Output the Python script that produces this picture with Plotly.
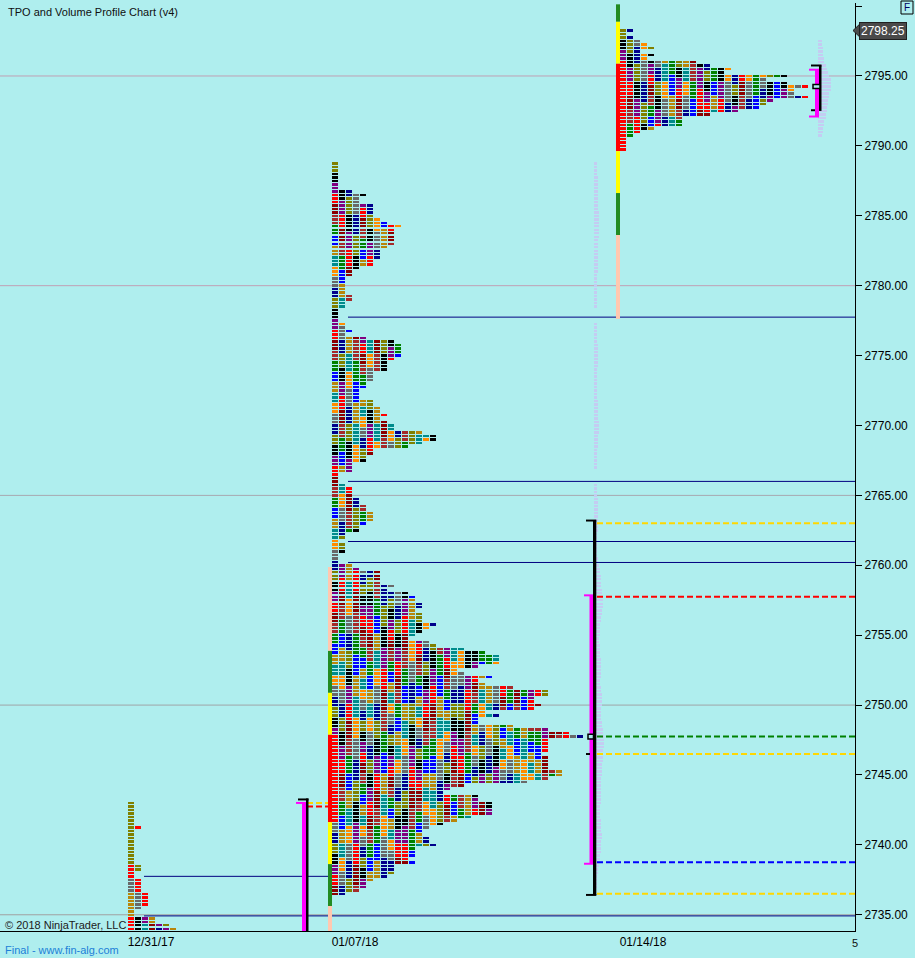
import plotly.graph_objects as go

# ---------------- data ----------------
DATES = ['12/31/17', '01/07/18', '01/14/18']
TICK = 0.25
LAST_PRICE = 2798.25

# colour codes of TPO letters
CODE = {'o': '#808000', 'y': '#B8860B', 'r': '#FF0000', 'g': '#696969', 'G': '#008000',
        'k': '#000000', 't': '#008B8B', 'd': '#8B0000', 'n': '#00008B', 'b': '#0000FF',
        'p': '#800080', 'a': '#FF8C00', 'w': '#A52A2A'}
CYCLE = 'oyrgGktdnbpaw'

# profile 1 (week 12/31/17): one string of period colours per price row, from top down
P1_TOP = 2743.0
P1_ROWS = ['o', 'o', 'o', 'o', 'o', 'o', 'o', 'or', 'o', 'o', 'o', 'o', 'o', 'o', 'o', 'o', 'o', 'o',
           'ro', 'ro', 'r', 'r', 'gr', 'gr', 'gr', 'gr', 'ygr', 'ygr', 'ygr', 'ygr', 'yg', 'y', 'y',
           'rkpy', 'rkpy', 'rktdpo', 'rktdnpy']

# profile 2 (week 01/07/18): TPO count per price row, from top down
P2_TOP = 2788.75
P2_COUNTS = [1, 1, 1, 1, 1, 1, 1, 1,
             3, 5, 4, 4,
             6, 6, 6, 6, 7, 8,
             10, 9, 9, 9, 9, 9,
             8, 7, 7, 7, 6, 6,
             4, 3, 3, 2, 2, 2, 2, 2,
             3, 3, 2, 2, 1, 1, 1, 1,
             2, 2, 3, 2, 5,
             9, 10, 10, 10, 10, 9, 8, 8, 8,
             6, 6, 6, 5, 5, 4, 4, 4,
             6, 6, 7, 7, 8, 7, 8, 9, 9,
             13, 15, 15, 13, 11,
             6, 6, 5, 5, 3, 3, 3, 1, 1, 1,
             2, 3, 3, 3, 4, 4, 5, 5, 6, 6, 6,
             5, 4, 4, 2, 2, 1, 2, 2, 2, 1, 1,
             1, 3, 4, 7, 7, 7, 7, 9, 8, 11,
             12, 12, 13, 13, 12, 13, 13, 13, 15, 14,
             13, 12, 11, 14, 15, 19, 22, 24, 24, 24,
             21, 18, 19, 23, 21, 22, 26, 31, 31, 29,
             29, 30, 29, 22, 24, 21, 21, 26, 31, 34,
             36, 31, 31,
             31, 31, 30, 31, 31, 31, 31, 33, 33, 31,
             28, 19, 17, 16, 21, 21, 23, 23, 23, 23,
             20, 18, 16, 14, 13, 13, 14, 14, 15, 12,
             12, 12, 11, 12, 9, 9, 9, 8, 6, 5,
             5, 4, 2]

# profile 3 (week 01/14/18)
P3_TOP = 2798.25
P3_COUNTS = [2, 1, 2, 3, 4, 5, 3, 5, 4, 11, 13, 16, 15, 24, 21, 24, 27, 25, 25, 27,
             22, 21, 20, 17, 13, 9, 9, 9, 5, 3, 2, 1, 1, 1, 1]

# volume profiles (relative bar length per row, from top down)
P2_VOL = ("1111222222" "2222333333" "3322222222" "2211111111" "1100001111"
          "1122222221" "1111111122" "2222333322" "2211111100" "0011112222"
          "2222221111" "1112234455" "5566677766" "5544443344" "4455555544"
          "5566665555" "6677888877" "7766665555" "5555444455" "5566555544"
          "3322111100")
P3_VOL_TOP = 2797.5
P3_VOL = "2233344567899998877665544332"

# range bars: (upper price, lower price, colour)
P2_BAR = [(2759.875, 2753.875, '#FFC8B0'), (2753.875, 2750.875, '#228B22'),
          (2750.875, 2747.875, '#FFFF00'), (2747.875, 2741.625, '#FF0000'),
          (2741.625, 2738.625, '#FFFF00'), (2738.625, 2735.625, '#228B22'),
          (2735.625, 2733.0, '#FFC8B0')]
P3_BAR = [(2800.125, 2798.875, '#228B22'), (2798.875, 2795.875, '#FFFF00'),
          (2795.875, 2789.625, '#FF0000'), (2789.625, 2786.625, '#FFFF00'),
          (2786.625, 2783.625, '#228B22'), (2783.625, 2777.625, '#FFC8B0')]

GRID_PRICES = [2795.0, 2780.0, 2765.0, 2750.0, 2735.0]
GRID_COLORS = ['#C0A0B4', '#C0A0B4', '#A8A8B0', '#A0A4A8', '#A0A0A0']

# naked POC lines: (price, x start, x end)
NAVY_LINES = [(2777.75, 348, 855), (2766.0, 348, 855), (2761.7, 348, 855), (2760.2, 348, 855),
              (2737.75, 144, 331), (2734.92, 144, 855)]

# value-area / range dashed lines: (price, colour, x start, x end)
DASHED = [(2743.0, '#FFD700', 307, 331), (2742.75, '#FF0000', 307, 331),
          (2763.0, '#FFD700', 597, 855), (2757.75, '#FF0000', 597, 855),
          (2747.75, '#008000', 597, 855), (2746.5, '#FFD700', 597, 855),
          (2738.75, '#0000FF', 597, 855), (2736.5, '#FFD700', 597, 855)]

# ---------------- layout constants ----------------
BG = '#AFEEEE'
FONT = 'Liberation Sans, Arial, sans-serif'
X_MAX = 855
Y_LO, Y_HI = 2733.84, 2800.22
WEEK_X = [124, 328, 616]
CELL_W, PITCH, ROW_H = 6, 7, 0.175


def hashed_color(r, c):
    run = 3 + (c % 4)
    blk = (r + 5 * c) // run
    return CODE[CYCLE[(blk * 5 + c * 3) % 13]]


def in_red(p, bar):
    for hi, lo, col in bar:
        if col == '#FF0000' and lo < p < hi:
            return True
    return False


ys, bases, cols = [], [], []
# profile 1
x0 = WEEK_X[0] + 4
for r, row in enumerate(P1_ROWS):
    p = P1_TOP - r * TICK
    for c, ch in enumerate(row):
        ys.append(p); bases.append(x0 + c * PITCH); cols.append(CODE[ch])
# profiles 2, 3
for top, counts, wx, bar in [(P2_TOP, P2_COUNTS, WEEK_X[1], P2_BAR), (P3_TOP, P3_COUNTS, WEEK_X[2], P3_BAR)]:
    x0 = wx + 4
    for r, n in enumerate(counts):
        p = top - r * TICK
        for c in range(n):
            col = hashed_color(r, c)
            if c == 0 and in_red(p, bar):
                col = '#FF0000'
            ys.append(p); bases.append(x0 + c * PITCH); cols.append(col)

fig = go.Figure()

# volume profiles
vy, vx, vb = [], [], []
for r, ch in enumerate(P2_VOL):
    if int(ch) > 0:
        vy.append(P2_TOP - r * TICK); vx.append(int(ch) * 1.0 + 1.5); vb.append(594)
for r, ch in enumerate(P3_VOL):
    vy.append(P3_VOL_TOP - r * TICK); vx.append(int(ch) * 1.3 + 1); vb.append(818)
fig.add_trace(go.Bar(y=vy, x=vx, base=vb, orientation='h', width=ROW_H,
                     marker=dict(color='#C4CCF2', line=dict(width=0)), hoverinfo='skip'))

fig.add_trace(go.Bar(y=ys, x=[CELL_W] * len(ys), base=bases, orientation='h', width=ROW_H,
                     marker=dict(color=cols, line=dict(width=0)), hoverinfo='skip'))

shapes = []


def rect(x0, x1, p0, p1, color, layer='above'):
    shapes.append(dict(type='rect', xref='x', yref='y', x0=x0, x1=x1, y0=p0, y1=p1,
                       fillcolor=color, line=dict(width=0), layer=layer))


for p, c in zip(GRID_PRICES, GRID_COLORS):
    shapes.append(dict(type='line', xref='x', yref='y', x0=0, x1=X_MAX, y0=p, y1=p,
                       line=dict(color=c, width=1), layer='below'))
for p, xa, xb in NAVY_LINES:
    shapes.append(dict(type='line', xref='x', yref='y', x0=xa, x1=xb, y0=p, y1=p,
                       line=dict(color='#000080', width=1)))
for p, c, xa, xb in DASHED:
    shapes.append(dict(type='line', xref='x', yref='y', x0=xa, x1=xb, y0=p, y1=p,
                       line=dict(color=c, width=2, dash='6px,3px')))

# range bars
for hi, lo, c in P2_BAR:
    rect(WEEK_X[1], WEEK_X[1] + 4, lo, hi, c)
for hi, lo, c in P3_BAR:
    rect(WEEK_X[2], WEEK_X[2] + 4, lo, hi, c)

T = 0.07
# profile 1 brackets
rect(302, 306, Y_LO - 1, 2743.0 + T, '#FF00FF')
rect(296, 306, 2743.0 - T, 2743.0 + T, '#FF00FF')
rect(306, 308.5, Y_LO - 1, 2743.25 + T, '#000000')
rect(298, 308.5, 2743.25 - T, 2743.25 + T, '#000000')
# profile 2 brackets
rect(589.5, 593, 2738.65, 2757.85, '#FF00FF')
rect(584, 593, 2757.85 - T, 2757.85 + T, '#FF00FF')
rect(584, 593, 2738.65 - T, 2738.65 + T, '#FF00FF')
rect(593, 596.3, 2736.42, 2763.2, '#000000')
rect(586, 596.3, 2763.2 - T, 2763.2 + T, '#000000')
rect(586, 596.3, 2736.42 - T, 2736.42 + T, '#000000')
rect(586, 590, 2746.5 - T, 2746.5 + T, '#000000')
shapes.append(dict(type='rect', xref='x', yref='y', x0=588, x1=593.5, y0=2747.75 - 0.17,
                   y1=2747.75 + 0.17, fillcolor=BG, line=dict(color='#000000', width=1.5)))
# profile 3 brackets
rect(815, 819, 2792.1, 2795.45, '#FF00FF')
rect(809, 819, 2795.45 - T, 2795.45 + T, '#FF00FF')
rect(809, 819, 2792.1 - T, 2792.1 + T, '#FF00FF')
rect(819, 821.5, 2792.5, 2795.75, '#000000')
rect(811, 821.5, 2795.75 - T, 2795.75 + T, '#000000')
rect(811, 815, 2792.55 - T, 2792.55 + T, '#000000')
shapes.append(dict(type='rect', xref='x', yref='y', x0=813, x1=820, y0=2794.25 - 0.14,
                   y1=2794.25 + 0.14, fillcolor=BG, line=dict(color='#000000', width=1.5)))

# last price marker arrow
PX = 1.0 / X_MAX
shapes.append(dict(type='path', xref='paper', yref='y',
                   path=f'M {853*PX} {LAST_PRICE} L {860*PX} {LAST_PRICE+0.48} L {860*PX} {LAST_PRICE-0.48} Z',
                   fillcolor='#4A4A4A', line=dict(color='#202020', width=1)))

PH = 928.0


def py(ypx):
    return (931 - ypx) / PH


# "F" box outline (paper coordinates)
shapes.append(dict(type='rect', xref='paper', yref='paper', x0=901 * PX, x1=913 * PX,
                   y0=py(14), y1=py(1), fillcolor=BG, line=dict(color='#000000', width=1)))

annotations = [
    dict(text='TPO and Volume Profile Chart (v4)', xref='paper', yref='paper', x=6 * PX, y=py(12),
         xanchor='left', yanchor='middle', showarrow=False, font=dict(family=FONT, size=11, color='#101010')),
    dict(text='© 2018 NinjaTrader, LLC', xref='paper', yref='paper', x=3 * PX, y=py(925),
         xanchor='left', yanchor='middle', showarrow=False, font=dict(family=FONT, size=11, color='#202020')),
    dict(text='Final - www.fin-alg.com', xref='paper', yref='paper', x=3 * PX, y=py(950),
         xanchor='left', yanchor='middle', showarrow=False, font=dict(family=FONT, size=11, color='#2080D8')),
    dict(text='5', xref='paper', yref='paper', x=855 * PX, y=py(943),
         xanchor='center', yanchor='middle', showarrow=False, font=dict(family=FONT, size=11, color='#101010')),
    dict(text=f'{LAST_PRICE:.2f}', xref='paper', yref='y', x=859 * PX, y=LAST_PRICE,
         xanchor='left', yanchor='middle', showarrow=False, bgcolor='#4A4A4A', bordercolor='#202020',
         borderwidth=1, borderpad=1, font=dict(family=FONT, size=12, color='#FFFFFF')),
    dict(text='F', xref='paper', yref='paper', x=907 * PX, y=py(7.5),
         xanchor='center', yanchor='middle', showarrow=False,
         font=dict(family=FONT, size=10, color='#000060')),
]

fig.update_layout(
    width=915, height=958, autosize=False,
    margin=dict(l=0, r=60, t=3, b=27),
    paper_bgcolor=BG, plot_bgcolor=BG,
    barmode='overlay', bargap=0, showlegend=False, hovermode=False,
    shapes=shapes, annotations=annotations,
    font=dict(family=FONT, size=12, color='#000000'),
    xaxis=dict(range=[0, X_MAX], showgrid=False, zeroline=False, showline=True, linecolor='#000000',
               linewidth=1, tickmode='array', tickvals=[w + 27 for w in WEEK_X], ticktext=DATES,
               ticks='', tickfont=dict(family=FONT, size=12, color='#000000'), fixedrange=True),
    yaxis=dict(range=[Y_LO, Y_HI], side='right', showgrid=False, zeroline=False, showline=True,
               linecolor='#000000', linewidth=1, ticks='outside', ticklen=6, tickcolor='#000000',
               tick0=2735, dtick=5, tickformat='.2f',
               tickfont=dict(family=FONT, size=12, color='#000000'), fixedrange=True),
)

fig.write_html('out.html', config={'displayModeBar': False},
               post_script="document.body.style.margin='0';document.body.style.padding='0';"
                           "document.body.style.background='#AFEEEE';")
